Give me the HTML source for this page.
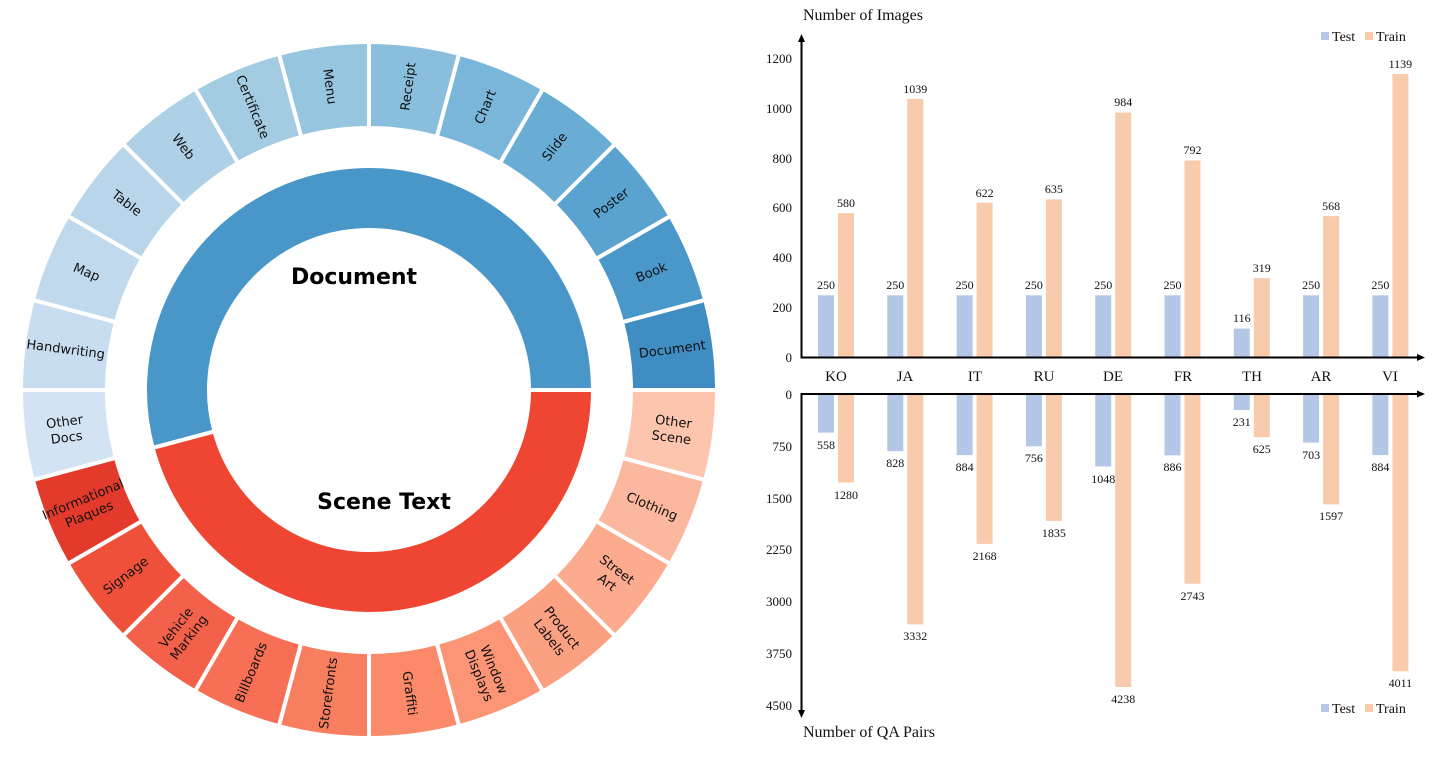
<!DOCTYPE html>
<html><head><meta charset="utf-8"><style>
html,body{margin:0;padding:0;background:#fff;width:1440px;height:761px;overflow:hidden}
svg{display:block}
.lb{font-family:"DejaVu Sans",sans-serif;font-size:13px;fill:#111}
.s{font-family:"Liberation Serif",serif;fill:#111}
</style></head><body>
<svg width="1440" height="761" viewBox="0 0 1440 761">
<defs>
<path id="w" d="M262,0 L348,0 A348,348 0 0 0 336.14,-90.07 L253.07,-67.81 A262,262 0 0 1 262,0 Z"/>
</defs>
<g transform="translate(369,390)">
<path d="M160,0 L224,0 A224,224 0 1 0 -216.37,57.97 L-154.55,41.41 A160,160 0 1 1 160,0 Z" fill="#4997c9" stroke="#fff" stroke-width="4"/>
<path d="M160,0 L224,0 A224,224 0 0 1 -216.37,57.97 L-154.55,41.41 A160,160 0 0 0 160,0 Z" fill="#ef4533" stroke="#fff" stroke-width="4"/>
<g stroke="#fff" stroke-width="4">
<use href="#w" fill="#3f8dc3" transform="rotate(0)"/>
<use href="#w" fill="#4a97c9" transform="rotate(-15)"/>
<use href="#w" fill="#5aa2cf" transform="rotate(-30)"/>
<use href="#w" fill="#69add5" transform="rotate(-45)"/>
<use href="#w" fill="#7ab6d9" transform="rotate(-60)"/>
<use href="#w" fill="#89bfdc" transform="rotate(-75)"/>
<use href="#w" fill="#96c5df" transform="rotate(-90)"/>
<use href="#w" fill="#a3cce3" transform="rotate(-105)"/>
<use href="#w" fill="#aed1e7" transform="rotate(-120)"/>
<use href="#w" fill="#b8d5ea" transform="rotate(-135)"/>
<use href="#w" fill="#c1d9ed" transform="rotate(-150)"/>
<use href="#w" fill="#c9ddf0" transform="rotate(-165)"/>
<use href="#w" fill="#d2e3f3" transform="rotate(-180)"/>
<use href="#w" fill="#e43a2b" transform="rotate(-195)"/>
<use href="#w" fill="#ef5039" transform="rotate(-210)"/>
<use href="#w" fill="#f4614a" transform="rotate(-225)"/>
<use href="#w" fill="#f77055" transform="rotate(-240)"/>
<use href="#w" fill="#f87e60" transform="rotate(-255)"/>
<use href="#w" fill="#fb8a6b" transform="rotate(-270)"/>
<use href="#w" fill="#fc9576" transform="rotate(-285)"/>
<use href="#w" fill="#fca082" transform="rotate(-300)"/>
<use href="#w" fill="#fcab8f" transform="rotate(-315)"/>
<use href="#w" fill="#fcb89f" transform="rotate(-330)"/>
<use href="#w" fill="#fdc5ae" transform="rotate(-345)"/>
</g>
<g class="lb" text-anchor="middle" dominant-baseline="central">
<text transform="rotate(-7.5) translate(306,0)">Document</text>
<text transform="rotate(-22.5) translate(306,0)">Book</text>
<text transform="rotate(-37.5) translate(306,0)">Poster</text>
<text transform="rotate(-52.5) translate(306,0)">Slide</text>
<text transform="rotate(-67.5) translate(306,0)">Chart</text>
<text transform="rotate(-82.5) translate(306,0)">Receipt</text>
<text transform="rotate(-97.5) translate(306,0) rotate(180)">Menu</text>
<text transform="rotate(-112.5) translate(306,0) rotate(180)">Certificate</text>
<text transform="rotate(-127.5) translate(306,0) rotate(180)">Web</text>
<text transform="rotate(-142.5) translate(306,0) rotate(180)">Table</text>
<text transform="rotate(-157.5) translate(306,0) rotate(180)">Map</text>
<text transform="rotate(-172.5) translate(306,0) rotate(180)">Handwriting</text>
<text transform="rotate(-187.5) translate(306,0) rotate(180)"><tspan x="0" y="-8">Other</tspan><tspan x="0" y="8">Docs</tspan></text>
<text transform="rotate(-202.5) translate(306,0) rotate(180)"><tspan x="0" y="-8">Informational</tspan><tspan x="0" y="8">Plaques</tspan></text>
<text transform="rotate(-217.5) translate(306,0) rotate(180)">Signage</text>
<text transform="rotate(-232.5) translate(306,0) rotate(180)"><tspan x="0" y="-8">Vehicle</tspan><tspan x="0" y="8">Marking</tspan></text>
<text transform="rotate(-247.5) translate(306,0) rotate(180)">Billboards</text>
<text transform="rotate(-262.5) translate(306,0) rotate(180)">Storefronts</text>
<text transform="rotate(-277.5) translate(306,0)">Graffiti</text>
<text transform="rotate(-292.5) translate(306,0)"><tspan x="0" y="-8">Window</tspan><tspan x="0" y="8">Displays</tspan></text>
<text transform="rotate(-307.5) translate(306,0)"><tspan x="0" y="-8">Product</tspan><tspan x="0" y="8">Labels</tspan></text>
<text transform="rotate(-322.5) translate(306,0)"><tspan x="0" y="-8">Street</tspan><tspan x="0" y="8">Art</tspan></text>
<text transform="rotate(-337.5) translate(306,0)">Clothing</text>
<text transform="rotate(-352.5) translate(306,0)"><tspan x="0" y="-8">Other</tspan><tspan x="0" y="8">Scene</tspan></text>
</g>
</g>
<text x="354" y="284" text-anchor="middle" font-family="DejaVu Sans,sans-serif" font-weight="bold" font-size="22">Document</text>
<text x="384" y="509" text-anchor="middle" font-family="DejaVu Sans,sans-serif" font-weight="bold" font-size="22">Scene Text</text>

<g class="s">
<text x="803" y="20" font-size="16">Number of Images</text>
<text x="803" y="737" font-size="16">Number of QA Pairs</text>
<g font-size="13" text-anchor="end">
<text x="792" y="362">0</text><text x="792" y="312">200</text><text x="792" y="262">400</text><text x="792" y="212">600</text><text x="792" y="163">800</text><text x="792" y="113">1000</text><text x="792" y="63">1200</text>
<text x="792" y="399">0</text><text x="792" y="451">750</text><text x="792" y="503">1500</text><text x="792" y="554">2250</text><text x="792" y="606">3000</text><text x="792" y="658">3750</text><text x="792" y="710">4500</text>
</g>
<g font-size="15" text-anchor="middle">
<text x="836" y="381">KO</text><text x="905" y="381">JA</text><text x="975" y="381">IT</text><text x="1044" y="381">RU</text><text x="1113" y="381">DE</text><text x="1183" y="381">FR</text><text x="1252" y="381">TH</text><text x="1321" y="381">AR</text><text x="1390" y="381">VI</text>
</g>
</g>
<g fill="#b4c7e7">
<rect x="818" y="295.3" width="16" height="62.2"/><rect x="887.3" y="295.3" width="16" height="62.2"/><rect x="956.6" y="295.3" width="16" height="62.2"/><rect x="1025.9" y="295.3" width="16" height="62.2"/><rect x="1095.2" y="295.3" width="16" height="62.2"/><rect x="1164.5" y="295.3" width="16" height="62.2"/><rect x="1233.8" y="328.6" width="16" height="28.9"/><rect x="1303.1" y="295.3" width="16" height="62.2"/><rect x="1372.4" y="295.3" width="16" height="62.2"/>
<rect x="818" y="394" width="16" height="38.6"/><rect x="887.3" y="394" width="16" height="57.2"/><rect x="956.6" y="394" width="16" height="61.1"/><rect x="1025.9" y="394" width="16" height="52.3"/><rect x="1095.2" y="394" width="16" height="72.5"/><rect x="1164.5" y="394" width="16" height="61.3"/><rect x="1233.8" y="394" width="16" height="16"/><rect x="1303.1" y="394" width="16" height="48.6"/><rect x="1372.4" y="394" width="16" height="61.1"/>
<rect x="1321" y="32" width="8" height="8"/><rect x="1321" y="704" width="8" height="8"/>
</g>
<g fill="#f8cbad">
<rect x="838" y="213.1" width="16" height="144.4"/><rect x="907.3" y="98.9" width="16" height="258.6"/><rect x="976.6" y="202.7" width="16" height="154.8"/><rect x="1045.9" y="199.4" width="16" height="158.1"/><rect x="1115.2" y="112.6" width="16" height="244.9"/><rect x="1184.5" y="160.4" width="16" height="197.1"/><rect x="1253.8" y="278.1" width="16" height="79.4"/><rect x="1323.1" y="216.1" width="16" height="141.4"/><rect x="1392.4" y="74" width="16" height="283.5"/>
<rect x="838" y="394" width="16" height="88.5"/><rect x="907.3" y="394" width="16" height="230.4"/><rect x="976.6" y="394" width="16" height="149.9"/><rect x="1045.9" y="394" width="16" height="126.9"/><rect x="1115.2" y="394" width="16" height="293"/><rect x="1184.5" y="394" width="16" height="189.7"/><rect x="1253.8" y="394" width="16" height="43.2"/><rect x="1323.1" y="394" width="16" height="110.4"/><rect x="1392.4" y="394" width="16" height="277.3"/>
<rect x="1365" y="32" width="8" height="8"/><rect x="1365" y="704" width="8" height="8"/>
</g>
<g class="s" font-size="14">
<text x="1332" y="41">Test</text><text x="1376" y="41">Train</text>
<text x="1332" y="713">Test</text><text x="1376" y="713">Train</text>
</g>
<g class="s" font-size="12" text-anchor="middle">
<text x="826" y="289">250</text><text x="895.3" y="289">250</text><text x="964.6" y="289">250</text><text x="1033.9" y="289">250</text><text x="1103.2" y="289">250</text><text x="1172.5" y="289">250</text><text x="1241.8" y="322">116</text><text x="1311.1" y="289">250</text><text x="1380.4" y="289">250</text>
<text x="846" y="207">580</text><text x="915.3" y="93">1039</text><text x="984.6" y="197">622</text><text x="1053.9" y="193">635</text><text x="1123.2" y="106">984</text><text x="1192.5" y="154">792</text><text x="1261.8" y="272">319</text><text x="1331.1" y="210">568</text><text x="1400.4" y="68">1139</text>
<text x="826" y="449">558</text><text x="895.3" y="467">828</text><text x="964.6" y="471">884</text><text x="1033.9" y="462">756</text><text x="1103.2" y="483">1048</text><text x="1172.5" y="471">886</text><text x="1241.8" y="426">231</text><text x="1311.1" y="459">703</text><text x="1380.4" y="471">884</text>
<text x="846" y="499">1280</text><text x="915.3" y="640">3332</text><text x="984.6" y="560">2168</text><text x="1053.9" y="537">1835</text><text x="1123.2" y="703">4238</text><text x="1192.5" y="600">2743</text><text x="1261.8" y="453">625</text><text x="1331.1" y="520">1597</text><text x="1400.4" y="687">4011</text>
</g>
<g stroke="#000" stroke-width="2" fill="none">
<line x1="801.5" y1="40" x2="801.5" y2="358"/>
<line x1="800.5" y1="357.5" x2="1418" y2="357.5"/>
<line x1="801.5" y1="394" x2="801.5" y2="712"/>
<line x1="800.5" y1="394" x2="1418" y2="394"/>
</g>
<g fill="#000">
<polygon points="801.5,34 798,42 805,42"/>
<polygon points="1425,357.5 1417,354 1417,361"/>
<polygon points="801.5,718 798,710 805,710"/>
<polygon points="1425,394 1417,390.5 1417,397.5"/>
</g>
</svg>
</body></html>
